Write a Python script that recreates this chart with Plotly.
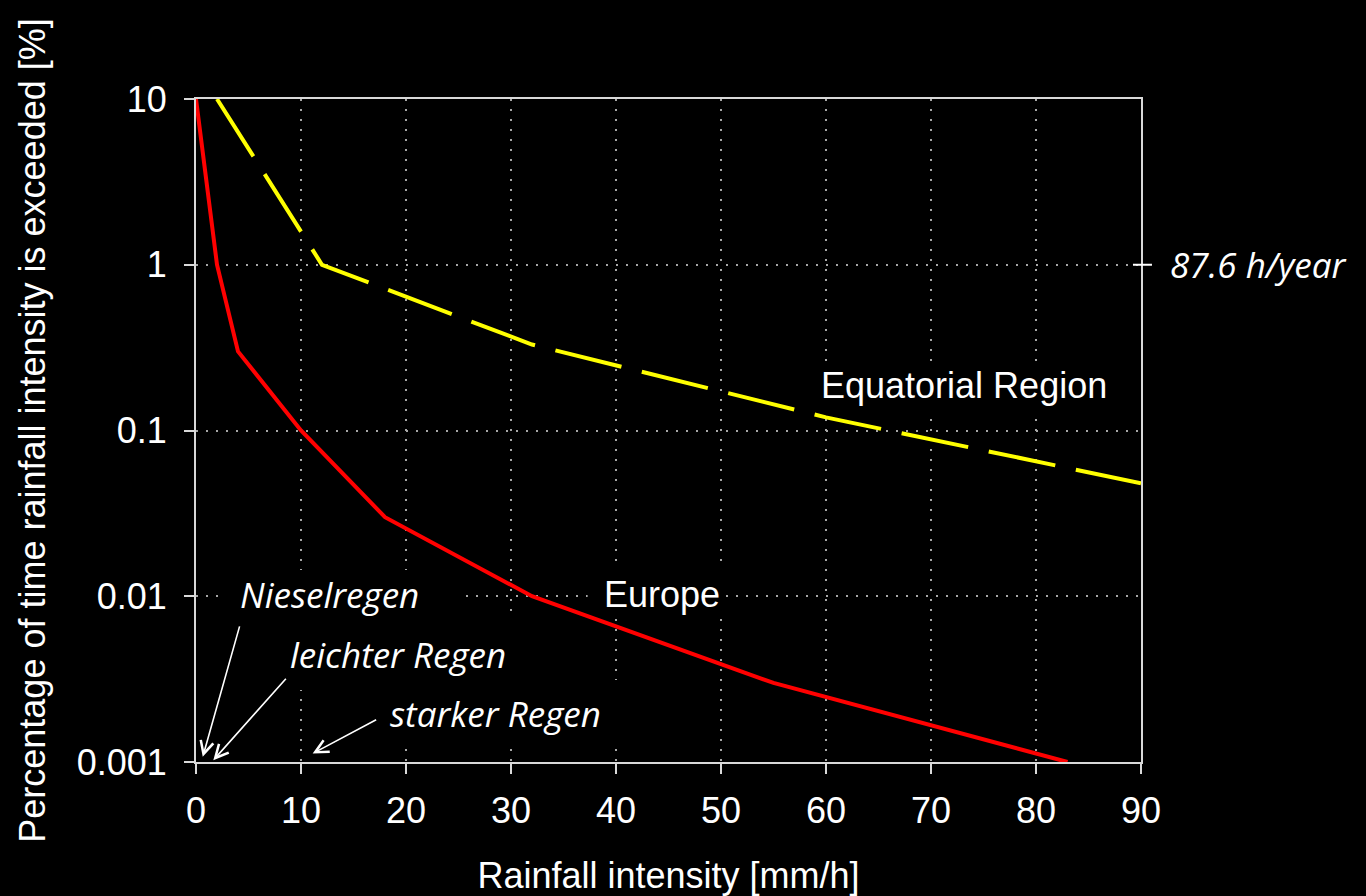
import plotly.graph_objects as go

# Exceedance curves: rainfall intensity [mm/h] vs. percentage of time exceeded [%]
europe_rate = [0, 2, 4, 10, 18, 32, 55, 83]
europe_pct = [10, 1, 0.3, 0.1, 0.03, 0.01, 0.003, 0.001]

equatorial_rate = [2, 12, 32, 60, 90]
equatorial_pct = [10, 1, 0.33, 0.12, 0.048]

x_ticks = [0, 10, 20, 30, 40, 50, 60, 70, 80, 90]
y_ticks = [0.001, 0.01, 0.1, 1, 10]
y_tick_labels = ["0.001", "0.01", "0.1", "1", "10"]

Y_LOG_MIN, Y_LOG_MAX = -3, 1

SANS = "Arial, Liberation Sans, sans-serif"
HAND = "Open Sans, Noto Sans, sans-serif"
AXIS_COLOR = "#d9d9d9"
GRID_COLOR = "#a6a6a6"


def log_to_domain(logy):
    return (logy - Y_LOG_MIN) / (Y_LOG_MAX - Y_LOG_MIN)


fig = go.Figure()

fig.add_trace(go.Scatter(
    x=equatorial_rate, y=equatorial_pct, mode="lines",
    line=dict(color="#ffff00", width=4, dash="68px,21px"),
    name="Equatorial Region", hoverinfo="skip",
))
fig.add_trace(go.Scatter(
    x=europe_rate, y=europe_pct, mode="lines",
    line=dict(color="#ff0000", width=4),
    name="Europe", hoverinfo="skip",
))

# Black backing boxes behind the labels (x in mm/h, y in log10 %)
label_boxes = [
    (59.0, 87.5, -0.623, -0.888),    # Equatorial Region
    (37.3, 50.1, -1.824, -2.100),    # Europe
    (2.5, 25.1, -1.842, -2.143),     # Nieselregen
    (7.5, 30.9, -2.131, -2.566),     # leichter Regen
    (17.0, 43.0, -2.505, -2.879),    # starker Regen
]
for x0, x1, ytop, ybot in label_boxes:
    fig.add_shape(type="rect", layer="above", xref="x", yref="y domain",
                  x0=x0, x1=x1, y0=log_to_domain(ybot), y1=log_to_domain(ytop),
                  fillcolor="black", line=dict(width=0))

label_font = dict(family=SANS, size=36, color="white")
italic_font = dict(family=HAND, size=35, color="white", style="italic")

annotations = []
for text, x, logy, font in [
    ("Equatorial Region", 73.14, -0.7255, label_font),
    ("Europe", 44.38, -1.992, label_font),
    ("Nieselregen", 12.76, -1.992, italic_font),
    ("leichter Regen", 19.19, -2.354, italic_font),
    ("starker Regen", 28.57, -2.708, italic_font),
]:
    annotations.append(dict(
        text=text, x=x, y=logy, xref="x", yref="y", showarrow=False,
        xanchor="center", yanchor="middle", font=font,
    ))

# Pointer arrows towards the low-intensity end of the axis
for tip_x, tip_logy, dx, dy in [(0.64, -2.969, 37, -131),
                                (1.65, -2.989, 73, -82),
                                (11.11, -2.949, 64, -34)]:
    annotations.append(dict(
        text="", x=tip_x, y=tip_logy, xref="x", yref="y",
        showarrow=True, ax=dx, ay=dy, axref="pixel", ayref="pixel",
        arrowhead=5, arrowsize=1.6, arrowwidth=1.6, arrowcolor="white",
        standoff=0, startstandoff=0, borderpad=0,
    ))

# Right-hand marker for the 1 % level
annotations.append(dict(
    text="87.6 h/year", x=1.0286, y=0, xref="paper", yref="y",
    showarrow=False, xanchor="left", yanchor="middle",
    font=dict(family=HAND, size=35, color="white", style="italic"),
))

fig.add_shape(type="line", xref="paper", yref="y domain",
              x0=0.9915, x1=1.0116, y0=log_to_domain(0), y1=log_to_domain(0),
              line=dict(color="white", width=2))

fig.update_layout(
    width=1366, height=896, autosize=False,
    margin=dict(l=196, r=225, t=99, b=134),
    paper_bgcolor="black", plot_bgcolor="black",
    showlegend=False,
    font=dict(family=SANS, size=36, color="white"),
    annotations=annotations,
)

fig.update_xaxes(
    range=[0, 90], tickvals=x_ticks, ticks="outside", ticklen=10,
    tickwidth=2, tickcolor=AXIS_COLOR, ticklabelstandoff=6,
    tickfont=dict(family=SANS, size=36, color="white"),
    showline=True, linecolor=AXIS_COLOR, linewidth=2, mirror=True,
    showgrid=True, gridcolor=GRID_COLOR, gridwidth=2, griddash="2px,8px",
    zeroline=False, automargin=False,
    title=dict(text="Rainfall intensity [mm/h]", standoff=33,
               font=dict(family=SANS, size=36, color="white")),
)
fig.update_yaxes(
    type="log", range=[Y_LOG_MIN, Y_LOG_MAX], tickvals=y_ticks,
    ticktext=y_tick_labels,
    ticks="outside", ticklen=10, tickwidth=2, tickcolor=AXIS_COLOR,
    ticklabelstandoff=10,
    tickfont=dict(family=SANS, size=36, color="white"),
    showline=True, linecolor=AXIS_COLOR, linewidth=2, mirror=True,
    showgrid=True, gridcolor=GRID_COLOR, gridwidth=2, griddash="2px,8px",
    zeroline=False, automargin=False,
    title=dict(text="Percentage of time rainfall intensity is exceeded [%]",
               standoff=20, font=dict(family=SANS, size=36, color="white")),
)

fig.write_html("out.html")
